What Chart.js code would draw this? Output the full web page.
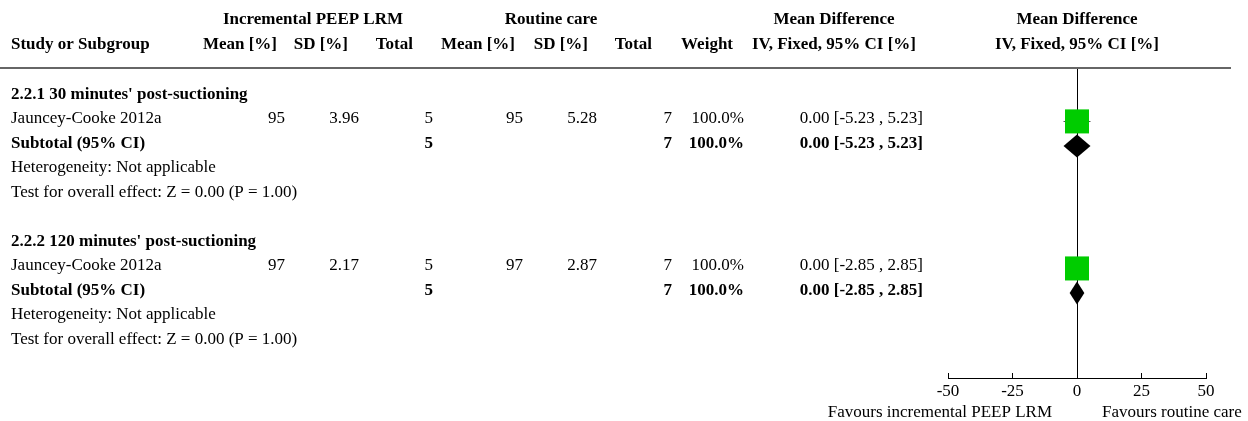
<!DOCTYPE html>
<html>
<head>
<meta charset="utf-8">
<script src="https://cdn.jsdelivr.net/npm/chart.js@4.4.1/dist/chart.umd.min.js"></script>
<style>
  html, body { margin: 0; padding: 0; background: #fff; }
  #wrap { width: 1248px; height: 421px; position: relative; }
</style>
</head>
<body>
<div id="wrap"><canvas id="forest"></canvas></div>
<script>
// Daten aus der Abbildung
const subgroupTitles = ["2.2.1 30 minutes' post-suctioning", "2.2.2 120 minutes' post-suctioning"];
const studyNames = ['Jauncey-Cooke 2012a', 'Jauncey-Cooke 2012a'];
const expMean = [95, 97];
const expSD = [3.96, 2.17];
const expTotal = [5, 5];
const ctlMean = [95, 97];
const ctlSD = [5.28, 2.87];
const ctlTotal = [7, 7];
const weights = ['100.0%', '100.0%'];
const md = [0.00, 0.00];
const ciLow = [-5.23, -2.85];
const ciHigh = [5.23, 2.85];
const subMd = [0.00, 0.00];
const subLow = [-5.23, -2.85];
const subHigh = [5.23, 2.85];
const heterogeneity = ['Heterogeneity: Not applicable', 'Heterogeneity: Not applicable'];
const overallTest = ['Test for overall effect: Z = 0.00 (P = 1.00)', 'Test for overall effect: Z = 0.00 (P = 1.00)'];
const xTicks = [-50, -25, 0, 25, 50];
const favoursLeft = 'Favours incremental PEEP LRM';
const favoursRight = 'Favours routine care';

// Zeilen (y-Achse, 1 Einheit = eine Textzeile)
const firstRow = [1, 7];

const FONT = '"Liberation Serif", "Times New Roman", serif';
const fmt2 = function(v) { return v.toFixed(2); };
const ciText = function(m, lo, hi) { return fmt2(m) + ' [' + fmt2(lo) + ' , ' + fmt2(hi) + ']'; };

const studyPoints = md.map(function(v, i) { return { x: v, y: firstRow[i] + 1 }; });

const tablePlugin = {
    id: 'table',
    beforeDatasetsDraw: function(chart) {
        const ctx = chart.ctx;
        const xs = chart.scales.x;
        const ys = chart.scales.y;
        ctx.save();
        // Konfidenzintervalle
        ctx.strokeStyle = '#555';
        ctx.lineWidth = 1;
        for (let i = 0; i < md.length; i++) {
            const y = Math.round(ys.getPixelForValue(firstRow[i] + 1)) + 0.5;
            ctx.beginPath();
            ctx.moveTo(xs.getPixelForValue(ciLow[i]), y);
            ctx.lineTo(xs.getPixelForValue(ciHigh[i]), y);
            ctx.stroke();
        }
        ctx.restore();
    },
    afterDatasetsDraw: function(chart) {
        const ctx = chart.ctx;
        const xs = chart.scales.x;
        const ys = chart.scales.y;
        ctx.save();
        // Rauten fuer Subtotal
        ctx.fillStyle = '#000';
        for (let i = 0; i < subMd.length; i++) {
            const yc = ys.getPixelForValue(firstRow[i] + 2);
            const h = 11.5;
            ctx.beginPath();
            ctx.moveTo(xs.getPixelForValue(subLow[i]), yc);
            ctx.lineTo(xs.getPixelForValue(subMd[i]), yc - h);
            ctx.lineTo(xs.getPixelForValue(subHigh[i]), yc);
            ctx.lineTo(xs.getPixelForValue(subMd[i]), yc + h);
            ctx.closePath();
            ctx.fill();
        }
        ctx.restore();
    },
    afterDraw: function(chart) {
        const ctx = chart.ctx;
        const xs = chart.scales.x;
        const ys = chart.scales.y;
        const reg = '17px ' + FONT;
        const bold = 'bold 17px ' + FONT;
        ctx.save();
        ctx.fillStyle = '#000';
        ctx.textBaseline = 'alphabetic';

        function txt(s, x, y, align, f) {
            ctx.font = f;
            ctx.textAlign = align;
            ctx.fillText(s, x, y);
        }

        // Kopfzeilen
        txt('Incremental PEEP LRM', 313, 24, 'center', bold);
        txt('Routine care', 551, 24, 'center', bold);
        txt('Mean Difference', 834, 24, 'center', bold);
        txt('Mean Difference', 1077, 24, 'center', bold);
        txt('Study or Subgroup', 11, 49, 'left', bold);
        txt('Mean [%]', 277, 49, 'right', bold);
        txt('SD [%]', 348, 49, 'right', bold);
        txt('Total', 413, 49, 'right', bold);
        txt('Mean [%]', 515, 49, 'right', bold);
        txt('SD [%]', 588, 49, 'right', bold);
        txt('Total', 652, 49, 'right', bold);
        txt('Weight', 733, 49, 'right', bold);
        txt('IV, Fixed, 95% CI [%]', 834, 49, 'center', bold);
        txt('IV, Fixed, 95% CI [%]', 1077, 49, 'center', bold);

        // Trennlinie
        ctx.fillStyle = '#666';
        ctx.fillRect(0, 67, 1231, 2);
        ctx.fillStyle = '#000';

        for (let i = 0; i < studyNames.length; i++) {
            const r = firstRow[i];
            const yy = function(k) { return ys.getPixelForValue(r + k) + 2; };
            txt(subgroupTitles[i], 11, yy(0), 'left', bold);

            txt(studyNames[i], 11, yy(1), 'left', reg);
            txt(String(expMean[i]), 285, yy(1), 'right', reg);
            txt(fmt2(expSD[i]), 359, yy(1), 'right', reg);
            txt(String(expTotal[i]), 433, yy(1), 'right', reg);
            txt(String(ctlMean[i]), 523, yy(1), 'right', reg);
            txt(fmt2(ctlSD[i]), 597, yy(1), 'right', reg);
            txt(String(ctlTotal[i]), 672, yy(1), 'right', reg);
            txt(weights[i], 744, yy(1), 'right', reg);
            txt(ciText(md[i], ciLow[i], ciHigh[i]), 923, yy(1), 'right', reg);

            txt('Subtotal (95% CI)', 11, yy(2), 'left', bold);
            txt(String(expTotal[i]), 433, yy(2), 'right', bold);
            txt(String(ctlTotal[i]), 672, yy(2), 'right', bold);
            txt(weights[i], 744, yy(2), 'right', bold);
            txt(ciText(subMd[i], subLow[i], subHigh[i]), 923, yy(2), 'right', bold);

            txt(heterogeneity[i], 11, yy(3), 'left', reg);
            txt(overallTest[i], 11, yy(4), 'left', reg);
        }

        // Favours-Beschriftung
        const x0 = xs.getPixelForValue(0);
        txt(favoursLeft, x0 - 25, 417, 'right', reg);
        txt(favoursRight, x0 + 25, 417, 'left', reg);
        ctx.restore();
    }
};

new Chart(document.getElementById('forest'), {
    type: 'scatter',
    data: {
        datasets: [{
            data: studyPoints,
            pointStyle: 'rect',
            pointRadius: 17,
            pointHoverRadius: 17,
            backgroundColor: '#00cc00',
            borderWidth: 0
        }]
    },
    options: {
        responsive: true,
        maintainAspectRatio: false,
        animation: false,
        events: [],
        layout: { padding: { left: 948, right: 42, top: 67, bottom: 0 } },
        plugins: { legend: { display: false }, tooltip: { enabled: false } },
        scales: {
            x: {
                type: 'linear',
                min: -50,
                max: 50,
                afterFit: function(scale) { scale.height = 43; },
                afterBuildTicks: function(scale) {
                    scale.ticks = xTicks.map(function(v) { return { value: v }; });
                },
                grid: {
                    drawOnChartArea: true,
                    drawTicks: true,
                    tickLength: -5,
                    tickColor: '#000',
                    color: function(c) { return c.tick && c.tick.value === 0 ? '#000' : 'rgba(0,0,0,0)'; }
                },
                border: { display: true, color: '#000', width: 1 },
                ticks: {
                    padding: 8,
                    color: '#000',
                    font: { family: FONT, size: 17 },
                    maxRotation: 0,
                    autoSkip: false
                }
            },
            y: {
                type: 'linear',
                display: false,
                reverse: true,
                min: -0.22,
                max: 12.47
            }
        }
    },
    plugins: [tablePlugin]
});
</script>
</body>
</html>
